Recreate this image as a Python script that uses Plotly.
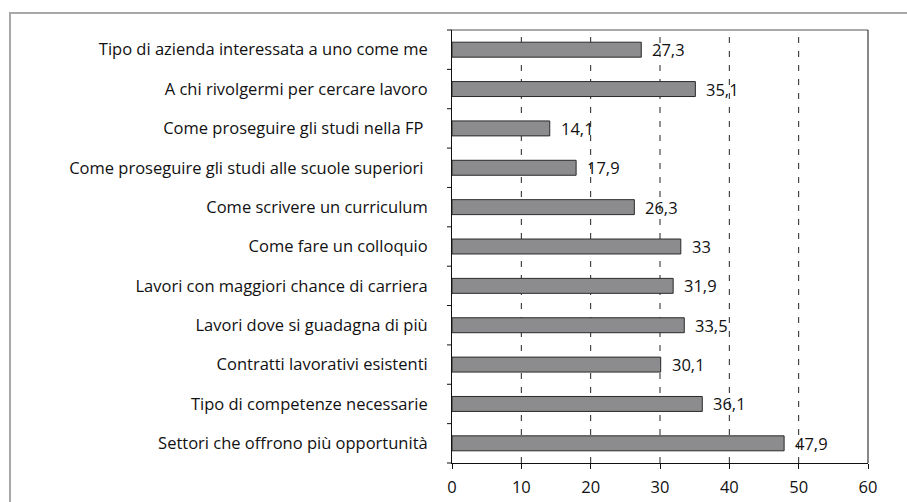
import plotly.graph_objects as go

categories = [
    "Tipo di azienda interessata a uno come me",
    "A chi rivolgermi per cercare lavoro",
    "Come proseguire gli studi nella FP ",
    "Come proseguire gli studi alle scuole superiori ",
    "Come scrivere un curriculum",
    "Come fare un colloquio",
    "Lavori con maggiori chance di carriera",
    "Lavori dove si guadagna di più",
    "Contratti lavorativi esistenti",
    "Tipo di competenze necessarie",
    "Settori che offrono più opportunità",
]
values = [27.3, 35.1, 14.1, 17.9, 26.3, 33, 31.9, 33.5, 30.1, 36.1, 47.9]
x_ticks = [0, 10, 20, 30, 40, 50, 60]

labels = [("%g" % v).replace(".", ",") for v in values]
FONT = "Open Sans"
FS = 16.5

fig = go.Figure()
fig.add_trace(go.Bar(
    y=categories, x=values, orientation="h",
    marker=dict(color="#8c8c8e", line=dict(color="#2a2a2a", width=1)),
    width=0.38, showlegend=False, hoverinfo="skip",
))

for c, v, t in zip(categories, values, labels):
    fig.add_annotation(x=v, y=c, text=t, showarrow=False, xanchor="left",
                       xshift=9, font=dict(family=FONT, size=FS, color="#111"))

W, H = 907, 502
L, R, T, B = 452, 868, 30, 463
pw, ph = R - L, B - T

shapes = []
# outer frame
shapes.append(dict(type="rect", xref="paper", yref="paper",
                   x0=(10 - L) / pw, x1=(W + 20 - L) / pw,
                   y0=(B - (H + 20)) / ph, y1=(B - 13) / ph,
                   line=dict(color="#a8a8a8", width=2), layer="below"))
# dashed gridlines
for g in x_ticks[1:-1]:
    shapes.append(dict(type="line", xref="x", yref="paper", x0=g, x1=g, y0=0, y1=1,
                       line=dict(color="#222", width=1, dash="6px,8px"), layer="below"))
# top and right border
shapes.append(dict(type="line", xref="paper", yref="paper", x0=0, x1=1, y0=1, y1=1,
                   line=dict(color="#555", width=1)))
shapes.append(dict(type="line", xref="paper", yref="paper", x0=1, x1=1, y0=0, y1=1,
                   line=dict(color="#111", width=1)))

fig.update_layout(
    width=W, height=H,
    margin=dict(l=L, r=W - R, t=T, b=H - B, pad=0),
    paper_bgcolor="white", plot_bgcolor="white",
    font=dict(family=FONT, size=FS, color="#111"),
    shapes=shapes,
    bargap=0.62,
    xaxis=dict(range=[0, 60], tickvals=x_ticks, showgrid=False, zeroline=False,
               showline=True, linecolor="#111", linewidth=1, automargin=False,
               ticks="outside", ticklen=5, tickcolor="#111", ticklabelstandoff=4,
               tickfont=dict(family=FONT, size=FS, color="#111")),
    yaxis=dict(autorange="reversed", showgrid=False, zeroline=False,
               showline=True, linecolor="#111", linewidth=1, automargin=False,
               ticks="", ticklabelstandoff=20,
               tickfont=dict(family=FONT, size=FS, color="#111")),
)

# category boundary tick marks on y axis
for i in range(len(categories) + 1):
    yy = i / len(categories)
    fig.add_shape(type="line", xref="paper", yref="paper",
                  x0=-5 / pw, x1=0, y0=yy, y1=yy, line=dict(color="#111", width=1))

fig.write_html("out.html", config={"displayModeBar": False},
               post_script="document.body.style.margin='0';document.body.style.overflow='hidden';")
